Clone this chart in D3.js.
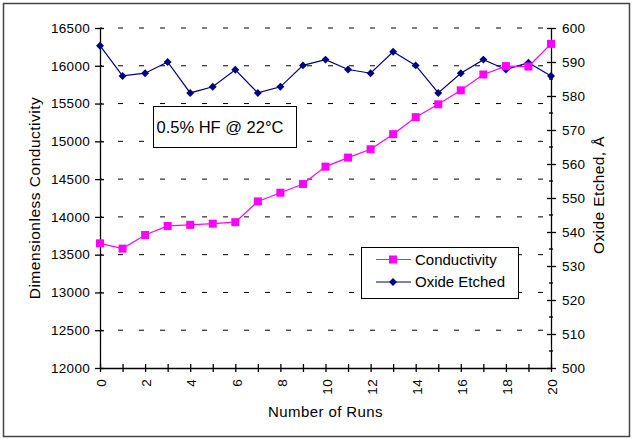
<!DOCTYPE html>
<html>
<head>
<meta charset="utf-8">
<script src="https://cdn.jsdelivr.net/npm/d3@7"></script>
<style>
  body { margin: 0; background: #fff; }
  svg { font-family: "Liberation Sans", Arial, sans-serif; }
  .axis path, .axis line { stroke: #000; stroke-width: 1.3; }
  .axis text { font-size: 13.5px; fill: #000; letter-spacing: 0.3px; }
  .grid line { stroke: #000; stroke-width: 1; stroke-dasharray: 5,16; }
</style>
</head>
<body>
<script>
var runs = d3.range(0, 21);
var conductivity = [13650, 13580, 13760, 13880, 13895, 13910, 13930, 14205, 14320, 14435,
                    14665, 14785, 14895, 15095, 15320, 15490, 15675, 15885, 15995, 15990, 16290];
var oxideEtched = [594.8, 585.9, 586.7, 590, 580.9, 582.7, 587.7, 580.9, 582.7, 589, 590.7,
                   587.8, 586.7, 593, 589, 580.9, 586.7, 590.7, 587.8, 589.8, 585.9];
var leftTicks = d3.range(12000, 16501, 500);
var rightTicks = d3.range(500, 601, 10);
var rightMinor = d3.range(505, 600, 10);
var xTicks = d3.range(0, 21, 1);

var W = 633, H = 439;
var margin = {left: 100, right: 82, top: 28, bottom: 71};
var width = W - margin.left - margin.right;
var height = H - margin.top - margin.bottom;

var svg = d3.select("body").append("svg").attr("width", W).attr("height", H);

svg.append("rect")
    .attr("x", 3.5).attr("y", 3.5).attr("width", W - 7).attr("height", H - 6)
    .attr("fill", "#fff").attr("stroke", "#444").attr("stroke-width", 1.5);

var g = svg.append("g").attr("transform", "translate(" + margin.left + "," + margin.top + ")");

var xScale = d3.scaleLinear().domain([0, 20]).range([0, width]);
var yLeft = d3.scaleLinear().domain([12000, 16500]).range([height, 0]);
var yRight = d3.scaleLinear().domain([500, 600]).range([height, 0]);

// gridlines (dashed, every major left tick)
g.append("g").attr("class", "grid")
    .selectAll("line")
    .data(leftTicks.slice(1))
    .enter().append("line")
    .attr("x1", 0).attr("x2", width)
    .attr("y1", function (d) { return yLeft(d); })
    .attr("y2", function (d) { return yLeft(d); })
    .attr("stroke-dashoffset", -18);

// left axis, ticks cross the line
var la = g.append("g").attr("class", "axis yl")
    .call(d3.axisLeft(yLeft).tickValues(leftTicks).tickSize(5).tickSizeOuter(0).tickFormat(d3.format("d")));
la.selectAll(".tick line").attr("x2", -5).attr("x1", 4);
la.selectAll("text").attr("x", -10);

// right axis
var ra = g.append("g").attr("class", "axis yr")
    .attr("transform", "translate(" + width + ",0)")
    .call(d3.axisRight(yRight).tickValues(rightTicks).tickSize(5).tickSizeOuter(0));
ra.selectAll(".tick line").attr("x1", -4);
ra.selectAll("text").attr("x", 11);
ra.selectAll(".minor").data(rightMinor).enter().append("line")
    .attr("class", "minor")
    .attr("x1", -2).attr("x2", 2)
    .attr("y1", function (d) { return yRight(d); })
    .attr("y2", function (d) { return yRight(d); });

// x axis
var xa = g.append("g").attr("class", "axis x")
    .attr("transform", "translate(0," + height + ")")
    .call(d3.axisBottom(xScale).tickValues(xTicks).tickSize(4).tickSizeOuter(0)
        .tickFormat(function (d) { return d % 2 === 0 ? d : ""; }));
xa.selectAll(".tick line").attr("y1", -4);
xa.selectAll("text")
    .attr("transform", "rotate(-90)")
    .attr("text-anchor", "end")
    .attr("x", -11).attr("y", 1).attr("dy", "0.35em");

// lines
var lineC = d3.line().x(function (d, i) { return xScale(runs[i]); }).y(function (d) { return yLeft(d); });
var lineO = d3.line().x(function (d, i) { return xScale(runs[i]); }).y(function (d) { return yRight(d); });

g.append("path").attr("d", lineO(oxideEtched)).attr("fill", "none").attr("stroke", "#000080").attr("stroke-width", 1.2);
g.append("path").attr("d", lineC(conductivity)).attr("fill", "none").attr("stroke", "#FF00FF").attr("stroke-width", 1.2);

var diamond = d3.symbol().type(d3.symbolDiamond2).size(40);
g.selectAll(".ox").data(oxideEtched).enter().append("path")
    .attr("class", "ox")
    .attr("d", diamond)
    .attr("transform", function (d, i) { return "translate(" + xScale(runs[i]) + "," + yRight(d) + ")"; })
    .attr("fill", "#000080");

g.selectAll(".co").data(conductivity).enter().append("rect")
    .attr("class", "co")
    .attr("x", function (d, i) { return xScale(runs[i]) - 4; })
    .attr("y", function (d) { return yLeft(d) - 4; })
    .attr("width", 8).attr("height", 8)
    .attr("fill", "#FF00FF");

// annotation box
svg.append("rect").attr("x", 153.5).attr("y", 106.5).attr("width", 143).attr("height", 41)
    .attr("fill", "#fff").attr("stroke", "#000").attr("stroke-width", 1);
svg.append("text").attr("x", 156.5).attr("y", 133).attr("font-size", 16.5).text("0.5% HF @ 22°C");

// legend
var lg = svg.append("g").attr("transform", "translate(361,247)");
lg.append("rect").attr("x", 0.5).attr("y", 0.5).attr("width", 157).attr("height", 51)
    .attr("fill", "#fff").attr("stroke", "#000").attr("stroke-width", 1);
lg.append("line").attr("x1", 15).attr("x2", 50).attr("y1", 12.5).attr("y2", 12.5).attr("stroke", "#FF00FF").attr("stroke-width", 1.2);
lg.append("rect").attr("x", 28).attr("y", 8.5).attr("width", 8).attr("height", 8).attr("fill", "#FF00FF");
lg.append("line").attr("x1", 15).attr("x2", 50).attr("y1", 35).attr("y2", 35).attr("stroke", "#000080").attr("stroke-width", 1.2);
lg.append("path").attr("d", diamond).attr("transform", "translate(32,35)").attr("fill", "#000080");
lg.append("text").attr("x", 54).attr("y", 17.5).attr("font-size", 15).text("Conductivity");
lg.append("text").attr("x", 54).attr("y", 40).attr("font-size", 15).text("Oxide Etched");

// axis titles
svg.append("text").attr("transform", "translate(40," + (margin.top + height / 2) + ") rotate(-90)")
    .attr("text-anchor", "middle").attr("font-size", 15.5).attr("letter-spacing", 0.5)
    .text("Dimensionless Conductivity");
svg.append("text").attr("transform", "translate(604," + (margin.top + height / 2 - 3) + ") rotate(-90)")
    .attr("text-anchor", "middle").attr("font-size", 15.5).attr("letter-spacing", 0.4)
    .text("Oxide Etched, Å");
svg.append("text").attr("x", margin.left + width / 2).attr("y", 417)
    .attr("text-anchor", "middle").attr("font-size", 15).attr("letter-spacing", 0.4)
    .text("Number of Runs");
</script>
</body>
</html>
